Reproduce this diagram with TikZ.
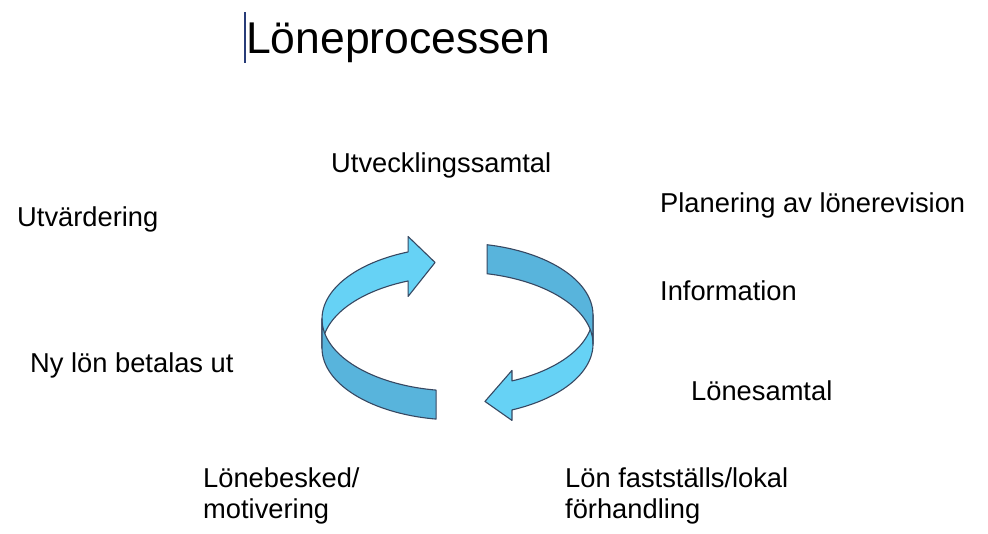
\documentclass[tikz,border=0pt]{standalone}
\usepackage{fontspec}
\setmainfont{Liberation Sans}
\definecolor{lightband}{RGB}{102,210,245}
\definecolor{darkband}{RGB}{88,180,220}
\definecolor{edgecol}{RGB}{55,72,98}
\definecolor{cursorcol}{RGB}{40,60,120}
\newcommand\ribarrow[5]{%
  \pgfmathsetmacro\rbx{457.5+135.5*cos(#2)}%
  \pgfmathsetmacro\rbyT{319+72*sin(#2)}%
  \pgfmathsetmacro\rbyB{348+72*sin(#2)}%
  \pgfmathsetmacro\rbyC{(\rbyT+\rbyB)/2}%
  \filldraw[ribbon, fill=lightband]
    plot[domain=#2:180, samples=40, variable=\t] ({457.5+135.5*cos(\t)},{319+72*sin(\t)})
    -- plot[domain=180:#2, samples=40, variable=\t] ({457.5+135.5*cos(\t)},{348+72*sin(\t)})
    -- (\rbx,\rbyC+#5) -- (\rbx+#3,\rbyC+#4) -- (\rbx,\rbyC-#5) -- cycle;
  \filldraw[ribbon, fill=darkband]
    plot[domain=180:#1, samples=40, variable=\t] ({457.5+135.5*cos(\t)},{319+72*sin(\t)})
    -- plot[domain=#1:180, samples=40, variable=\t] ({457.5+135.5*cos(\t)},{348+72*sin(\t)})
    -- cycle;
}
\tikzset{
  ribbon/.style={draw=edgecol, line width=1.1pt, line join=round},
  lbl/.style={anchor=base west, inner sep=0pt, align=left, text=black,
    font=\fontsize{27.3}{31}\selectfont},
  ttl/.style={anchor=base west, inner sep=0pt, text=black,
    font=\fontsize{44.5}{50}\selectfont}
}
\begin{document}
\begin{tikzpicture}[x=1pt,y=-1pt]
\fill[white] (0,0) rectangle (988,533);
\path[use as bounding box] (0,0) rectangle (988,533);
% title with text cursor
\coordinate (curtop) at (245,12);
\coordinate (curbot) at (245,63);
\draw[cursorcol, line width=1.2pt] (curtop) -- (curbot);
\node[ttl] (title) at (246,53) {Löneprocessen};
% ribbon arrows
\ribarrow{99.1}{248.6}{27}{-4}{30}
\begin{scope}[shift={(0,-4)}]
\begin{scope}[rotate around={180:(457.5,333.5)}]
\ribarrow{102.6}{246.3}{27}{-6}{25}
\end{scope}
\end{scope}
% labels
\node[lbl] (utv) at (331,172) {Utvecklingssamtal};
\node[lbl] (utvard) at (17,226) {Utvärdering};
\node[lbl] (plan) at (660,212) {Planering av lönerevision};
\node[lbl] (info) at (660,300) {Information};
\node[lbl] (nylon) at (30,372) {Ny lön betalas ut};
\node[lbl] (lonesamtal) at (691,400) {Lönesamtal};
\node[lbl] (besked) at (203,518) {Lönebesked/\\motivering};
\node[lbl] (faststall) at (565,518) {Lön fastställs/lokal\\förhandling};
\end{tikzpicture}
\end{document}
